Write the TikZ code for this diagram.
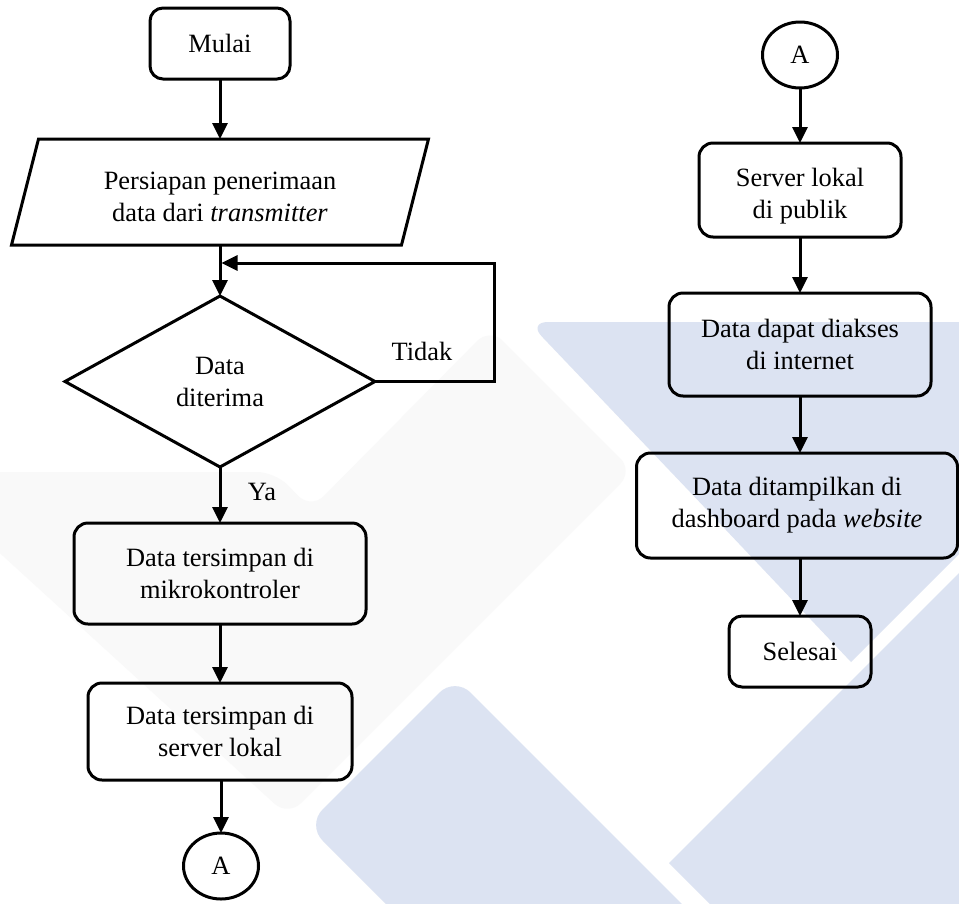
\documentclass[tikz,border=0pt]{standalone}
\usepackage{fontspec}
\setmainfont{Liberation Serif}
\usetikzlibrary{arrows.meta,shapes.geometric,calc}
\definecolor{wmblue}{HTML}{DCE3F2}
\definecolor{wmgrey}{HTML}{F9F9F9}
\begin{document}
\begin{tikzpicture}[x=1pt,y=-1pt,
  every node/.style={font=\fontsize{26.4}{32}\selectfont, align=center, inner sep=0pt, outer sep=0pt},
  proc/.style={draw, line width=3pt, rounded corners=14pt},
  term/.style={draw, line width=3pt, rounded corners=13pt},
  io/.style={draw=none},
  decide/.style={draw, diamond, line width=3pt},
  conn/.style={draw, ellipse, line width=3pt, minimum width=75pt, minimum height=66pt},
  lbl/.style={anchor=base},
  arr/.style={line width=3pt, -{Triangle[length=16pt,width=15pt]}},
  ln/.style={line width=3pt}]
\useasboundingbox (0,0) rectangle (959,903);
\fill[white] (0,0) rectangle (959,903);
% watermark
\begin{scope}
\clip (0,0) rectangle (959,903);
\fill[wmgrey, rounded corners=18pt] (-20,472) -- (275,472) -- (311,509) -- (490,328) -- (633,471) -- (288,816) -- (-20,535) -- cycle;
\fill[wmblue] (851,662) -- (690,492) [rounded corners=20pt] -- (528,322) -- (700,322) [sharp corners] -- (1000,322) -- (1000,513) -- cycle;
\fill[wmblue] (669,863) -- (1000,532) -- (1000,950) -- (756,950) -- cycle;
\fill[wmblue, rounded corners=22pt] (307,825) -- (455,677) -- (800,1022) -- (652,1170) -- cycle;
\end{scope}
% left column
\node[term, minimum width=140pt, minimum height=71pt] (mulai) at (220,43.5) {Mulai};
\node[io, minimum width=390pt, minimum height=106pt] (para) at (220,192) {\rule{0pt}{28pt}Persiapan penerimaan\\data dari \textit{transmitter}};
\draw[ln] ($(para.north west)+(13.5,0)$) -- ($(para.north east)+(13.5,0)$) -- ($(para.south east)+(-13.5,0)$) -- ($(para.south west)+(-13.5,0)$) -- cycle;
\node[decide, minimum width=310pt, minimum height=171pt] (dia) at (220,381.5) {Data\\diterima};
\node[proc, minimum width=292pt, minimum height=101pt] (box1) at (220,573.5) {Data tersimpan di\\mikrokontroler};
\node[proc, minimum width=264pt, minimum height=97pt] (box2) at (220,731.5) {Data tersimpan di\\server lokal};
\node[conn] (ca) at (221,866) {A};
\node[lbl] (tidak) at (422,360) {Tidak};
\node[lbl] (ya) at (262,500) {Ya};
\coordinate (loopx) at (494,263);
\coordinate (joinpt) at (221.5,263);
% right column
\node[conn] (cb) at (800,55) {A};
\node[proc, minimum width=202pt, minimum height=94pt] (srv) at (800,190) {\rule{0pt}{30pt}Server lokal\\di publik};
\node[proc, minimum width=262pt, minimum height=103pt] (akses) at (800,344.5) {Data dapat diakses\\di internet};
\node[proc, minimum width=321pt, minimum height=105pt] (tampil) at (797,505.5) {Data ditampilkan di\\dashboard pada \textit{website}};
\node[term, minimum width=142pt, minimum height=71pt] (selesai) at (800,651.5) {Selesai};
% connectors
\draw[arr] (mulai.south) -- (para.north);
\draw[arr] (para.south) -- (dia.north);
\draw[arr] (dia.east) -- (dia.east -| loopx) -- (loopx) -- (joinpt);
\draw[arr] (dia.south) -- (box1.north);
\draw[arr] (box1.south) -- (box2.north);
\draw[arr] (box2.south -| ca.north) -- (ca.north);
\draw[arr] (cb.south) -- (srv.north);
\draw[arr] (srv.south) -- (akses.north);
\draw[arr] (akses.south) -- (akses.south |- tampil.north);
\draw[arr] (tampil.south -| selesai.north) -- (selesai.north);
\end{tikzpicture}
\end{document}
